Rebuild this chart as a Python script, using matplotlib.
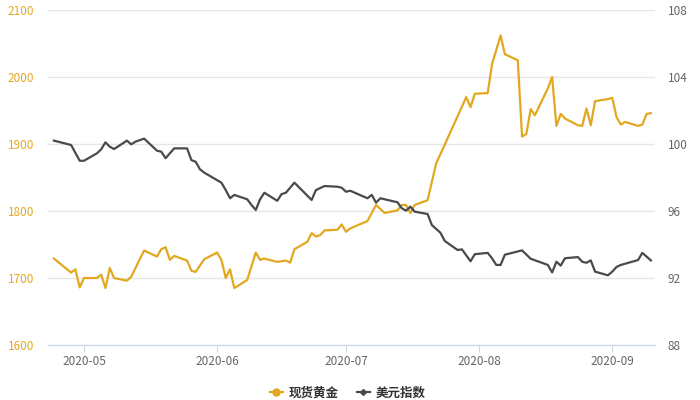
import matplotlib
matplotlib.use("Agg")
import matplotlib.pyplot as plt
import matplotlib.dates as mdates
from matplotlib.lines import Line2D
import pandas as pd

plt.rcParams['font.family'] = ['Noto Sans CJK SC', 'DejaVu Sans']

# spot gold (left axis)
gold_dates = ['2020-04-24', '2020-04-28', '2020-04-29', '2020-04-30', '2020-05-01', '2020-05-04',
              '2020-05-05', '2020-05-06', '2020-05-07', '2020-05-08', '2020-05-11', '2020-05-12',
              '2020-05-15', '2020-05-18', '2020-05-19', '2020-05-20', '2020-05-21', '2020-05-22',
              '2020-05-25', '2020-05-26', '2020-05-27', '2020-05-29', '2020-06-01', '2020-06-02',
              '2020-06-03', '2020-06-04', '2020-06-05', '2020-06-08', '2020-06-10', '2020-06-11',
              '2020-06-12', '2020-06-15', '2020-06-17', '2020-06-18', '2020-06-19', '2020-06-22',
              '2020-06-23', '2020-06-24', '2020-06-25', '2020-06-26', '2020-06-29', '2020-06-30',
              '2020-07-01', '2020-07-02', '2020-07-06', '2020-07-08', '2020-07-10', '2020-07-13',
              '2020-07-14', '2020-07-15', '2020-07-16', '2020-07-17', '2020-07-20', '2020-07-22',
              '2020-07-24', '2020-07-29', '2020-07-30', '2020-07-31', '2020-08-03', '2020-08-04',
              '2020-08-06', '2020-08-07', '2020-08-10', '2020-08-11', '2020-08-12', '2020-08-13',
              '2020-08-14', '2020-08-17', '2020-08-18', '2020-08-19', '2020-08-20', '2020-08-21',
              '2020-08-24', '2020-08-25', '2020-08-26', '2020-08-27', '2020-08-28', '2020-08-31',
              '2020-09-01', '2020-09-02', '2020-09-03', '2020-09-04', '2020-09-07', '2020-09-08',
              '2020-09-09', '2020-09-10']
gold_vals = [1729, 1708, 1713, 1686, 1700, 1700,
             1705, 1685, 1715, 1700, 1696, 1702,
             1741, 1732, 1743, 1746, 1727, 1733,
             1726, 1711, 1709, 1728, 1738, 1727,
             1700, 1713, 1685, 1697, 1738, 1727,
             1729, 1724, 1726, 1723, 1743, 1754,
             1767, 1762, 1764, 1771, 1772, 1780,
             1769, 1774, 1785, 1809, 1797, 1801,
             1809, 1809, 1797, 1809, 1816, 1871,
             1899, 1970, 1955, 1975, 1976, 2019,
             2062, 2034, 2025, 1911, 1915, 1952,
             1943, 1983, 2000, 1927, 1945, 1938,
             1928, 1927, 1953, 1928, 1964, 1967,
             1969, 1940, 1929, 1933, 1927, 1929,
             1945, 1946]

# dollar index (right axis)
usd_dates = ['2020-04-24', '2020-04-28', '2020-04-30', '2020-05-01', '2020-05-04', '2020-05-05',
             '2020-05-06', '2020-05-07', '2020-05-08', '2020-05-11', '2020-05-12', '2020-05-13',
             '2020-05-15', '2020-05-18', '2020-05-19', '2020-05-20', '2020-05-22', '2020-05-25',
             '2020-05-26', '2020-05-27', '2020-05-28', '2020-05-29', '2020-06-02', '2020-06-03',
             '2020-06-04', '2020-06-05', '2020-06-08', '2020-06-09', '2020-06-10', '2020-06-11',
             '2020-06-12', '2020-06-15', '2020-06-16', '2020-06-17', '2020-06-19', '2020-06-23',
             '2020-06-24', '2020-06-26', '2020-06-29', '2020-06-30', '2020-07-01', '2020-07-02',
             '2020-07-06', '2020-07-07', '2020-07-08', '2020-07-09', '2020-07-13', '2020-07-14',
             '2020-07-15', '2020-07-16', '2020-07-17', '2020-07-20', '2020-07-21', '2020-07-23',
             '2020-07-24', '2020-07-27', '2020-07-28', '2020-07-30', '2020-07-31', '2020-08-03',
             '2020-08-04', '2020-08-05', '2020-08-06', '2020-08-07', '2020-08-11', '2020-08-13',
             '2020-08-17', '2020-08-18', '2020-08-19', '2020-08-20', '2020-08-21', '2020-08-24',
             '2020-08-25', '2020-08-26', '2020-08-27', '2020-08-28', '2020-08-31', '2020-09-01',
             '2020-09-02', '2020-09-03', '2020-09-07', '2020-09-08', '2020-09-10']
usd_vals = [100.2, 99.94, 99.0, 99.0, 99.44, 99.68,
            100.1, 99.84, 99.7, 100.2, 99.98, 100.14,
            100.32, 99.6, 99.54, 99.15, 99.74, 99.74,
            99.04, 98.94, 98.49, 98.29, 97.69, 97.25,
            96.76, 96.96, 96.7, 96.36, 96.06, 96.7,
            97.09, 96.61, 97.01, 97.09, 97.69, 96.66,
            97.25, 97.49, 97.45, 97.39, 97.15, 97.21,
            96.76, 96.96, 96.5, 96.76, 96.52, 96.16,
            96.02, 96.26, 95.96, 95.82, 95.16, 94.7,
            94.21, 93.67, 93.71, 93.0, 93.42, 93.5,
            93.18, 92.78, 92.78, 93.39, 93.65, 93.15,
            92.78, 92.33, 92.97, 92.74, 93.18, 93.25,
            92.97, 92.91, 93.05, 92.38, 92.16, 92.38,
            92.66, 92.78, 93.07, 93.5, 93.05]

month_ticks = ['2020-05-01', '2020-06-01', '2020-07-01', '2020-08-01', '2020-09-01']
gold_ticks = [1600, 1700, 1800, 1900, 2000, 2100]
usd_ticks = [88, 92, 96, 100, 104, 108]

GOLD = '#E2A820'
DARK = '#4a4a4a'

fig = plt.figure(figsize=(7, 4), dpi=100)
ax = fig.add_axes([0.0686, 0.1375, 0.8674, 0.8375])
ax2 = ax.twinx()

ax.plot(pd.to_datetime(gold_dates), gold_vals, color=GOLD, lw=1.6, zorder=3)
ax2.plot(pd.to_datetime(usd_dates), usd_vals, color=DARK, lw=1.6, zorder=3)

ax.set_xlim(pd.Timestamp('2020-04-22 15:00'), pd.Timestamp('2020-09-11'))
ax.set_ylim(1600, 2100)
ax2.set_ylim(88, 108)
ax.set_yticks(gold_ticks)
ax2.set_yticks(usd_ticks)
ax.set_xticks(pd.to_datetime(month_ticks))
ax.xaxis.set_major_formatter(mdates.DateFormatter('%Y-%m'))

ax.grid(axis='y', color='#e6e6e6', lw=1)
ax.set_axisbelow(True)
for a in (ax, ax2):
    for s in ('top', 'left', 'right'):
        a.spines[s].set_visible(False)
    a.spines['bottom'].set_color('#ccd6eb')
ax.tick_params(axis='y', length=0, pad=10, labelsize=8.5, labelcolor=GOLD)
ax2.tick_params(axis='y', length=0, pad=9, labelsize=8.5, labelcolor='#666666')
ax.tick_params(axis='x', length=5, color='#ccd6eb', pad=2, labelsize=8.5, labelcolor='#666666')

handles = [Line2D([], [], color=GOLD, lw=1.6, marker='o', ms=5),
           Line2D([], [], color=DARK, lw=1.6, marker='D', ms=3)]
fig.legend(handles, ['现货黄金', '美元指数'], loc='center', bbox_to_anchor=(0.497, 0.0175),
           ncol=2, frameon=False, prop={'size': 9, 'weight': 'bold'}, handlelength=1.05,
           handletextpad=0.5, columnspacing=1.4, labelcolor='#333333')

fig.savefig('out.png', dpi=100)
